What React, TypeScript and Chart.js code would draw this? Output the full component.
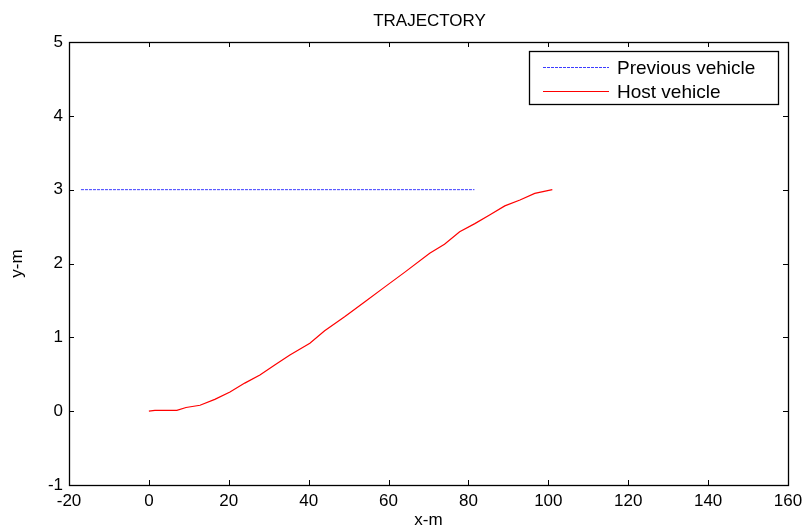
import React, { useEffect, useRef } from "react";
import { Chart, registerables } from "chart.js";

Chart.register(...registerables);

const titleText = "TRAJECTORY";
const xLabel = "x-m";
const yLabel = "y-m";
const xMin = -20;
const xMax = 160;
const xStep = 20;
const yMin = -1;
const yMax = 5;
const yStep = 1;

const legendLabels = ["Previous vehicle", "Host vehicle"];

const previousX = [-17, 81.5];
const previousY = [3, 3];

const hostX = [0, 1.5, 7, 9.3, 12.8, 16.5, 20.3, 24, 27.8, 31.6, 35.3, 40.3, 44, 49, 54, 59, 64, 70.3, 74, 77.8, 81.6, 85.4, 89.1, 92.9, 96.6, 101];
const hostY = [0, 0.01, 0.01, 0.05, 0.08, 0.16, 0.26, 0.38, 0.49, 0.63, 0.76, 0.92, 1.09, 1.28, 1.48, 1.68, 1.88, 2.14, 2.26, 2.43, 2.54, 2.66, 2.78, 2.86, 2.95, 3.0];

const FONT = "'Liberation Sans', Arial, sans-serif";
const blue = "#3c3cff";
const red = "#ff0000";

const framePlugin = {
  id: "frame",
  afterDatasetsDraw(chart: any) {
    const { ctx, chartArea: a, scales } = chart;
    const xs = scales.x;
    const ys = scales.y;
    ctx.save();
    ctx.strokeStyle = "#000";
    ctx.lineWidth = 1;
    const tl = 5;
    ctx.beginPath();
    for (let v = xMin; v <= xMax; v += xStep) {
      const px = Math.round(xs.getPixelForValue(v)) + 0.5;
      ctx.moveTo(px, a.bottom);
      ctx.lineTo(px, a.bottom - tl);
      ctx.moveTo(px, a.top);
      ctx.lineTo(px, a.top + tl);
    }
    for (let v = yMin; v <= yMax; v += yStep) {
      const py = Math.round(ys.getPixelForValue(v)) + 0.5;
      ctx.moveTo(a.left, py);
      ctx.lineTo(a.left + tl, py);
      ctx.moveTo(a.right, py);
      ctx.lineTo(a.right - tl, py);
    }
    ctx.stroke();
    ctx.lineWidth = 1.3;
    ctx.strokeRect(Math.round(a.left) + 0.5, Math.round(a.top) + 0.5, Math.round(a.right - a.left), Math.round(a.bottom - a.top));

    // legend
    const bw = 249;
    const bh = 53;
    const bx = a.right - 10 - bw;
    const by = a.top + 9;
    ctx.fillStyle = "#fff";
    ctx.fillRect(bx, by, bw, bh);
    ctx.lineWidth = 1.3;
    ctx.strokeRect(Math.round(bx) + 0.5, Math.round(by) + 0.5, bw, bh);
    const rows = [
      { label: legendLabels[0], color: blue, dash: [3, 1] },
      { label: legendLabels[1], color: red, dash: [] as number[] },
    ];
    ctx.font = `19px ${FONT}`;
    ctx.textBaseline = "middle";
    ctx.textAlign = "left";
    rows.forEach((r, i) => {
      const cy = Math.round(by + 16 + i * 24) + 0.5;
      ctx.beginPath();
      ctx.setLineDash(r.dash);
      ctx.strokeStyle = r.color;
      ctx.lineWidth = 1;
      ctx.moveTo(bx + 14, cy);
      ctx.lineTo(bx + 80, cy);
      ctx.stroke();
      ctx.setLineDash([]);
      ctx.fillStyle = "#000";
      ctx.fillText(r.label, bx + 88, cy + 1);
    });
    ctx.restore();
  },
};

export default function App() {
  const ref = useRef<HTMLCanvasElement>(null);
  useEffect(() => {
    const canvas = ref.current!;
    const chart = new Chart(canvas, {
      type: "scatter",
      data: {
        datasets: [
          {
            label: legendLabels[0],
            data: previousX.map((x, i) => ({ x, y: previousY[i] })),
            showLine: true,
            borderColor: blue,
            borderWidth: 1,
            borderDash: [3, 1],
            pointRadius: 0,
            tension: 0,
          },
          {
            label: legendLabels[1],
            data: hostX.map((x, i) => ({ x, y: hostY[i] })),
            showLine: true,
            borderColor: red,
            borderWidth: 1.2,
            pointRadius: 0,
            tension: 0,
          },
        ],
      },
      options: {
        responsive: false,
        animation: false,
        layout: { padding: { top: 42, right: 21, left: 0, bottom: 0 } },
        plugins: {
          legend: { display: false },
          tooltip: { enabled: false },
          title: {
            display: false,
          },
        },
        scales: {
          x: {
            type: "linear",
            min: xMin,
            max: xMax,
            ticks: { stepSize: xStep, color: "#000", font: { family: FONT, size: 17 }, padding: 6, maxRotation: 0 },
            grid: { display: false, drawTicks: false },
            border: { display: false },
            title: { display: true, text: xLabel, color: "#000", font: { family: FONT, size: 17 }, padding: { top: 0, bottom: 0 } },
            afterFit: (s: any) => { s.height = 46; },
          },
          y: {
            type: "linear",
            min: yMin,
            max: yMax,
            ticks: { stepSize: yStep, color: "#000", font: { family: FONT, size: 17 }, padding: 6 },
            grid: { display: false, drawTicks: false },
            border: { display: false },
            title: { display: true, text: yLabel, color: "#000", font: { family: FONT, size: 17 }, padding: { top: 7, bottom: 0 } },
            afterFit: (s: any) => { s.width = 69; },
          },
        },
      },
      plugins: [
        framePlugin,
        {
          id: "topTitle",
          afterDraw(c: any) {
            const { ctx, chartArea: a } = c;
            ctx.save();
            ctx.font = `17px ${FONT}`;
            ctx.fillStyle = "#000";
            ctx.textAlign = "center";
            ctx.textBaseline = "middle";
            ctx.fillText(titleText, (a.left + a.right) / 2 + 1, a.top - 21);
            ctx.restore();
          },
        },
      ],
    });
    return () => chart.destroy();
  }, []);
  return (
    <div style={{ position: "fixed", left: 0, top: 0, width: 809, height: 531, background: "#fff" }}>
      <canvas ref={ref} width={809} height={531} style={{ display: "block" }} />
    </div>
  );
}
